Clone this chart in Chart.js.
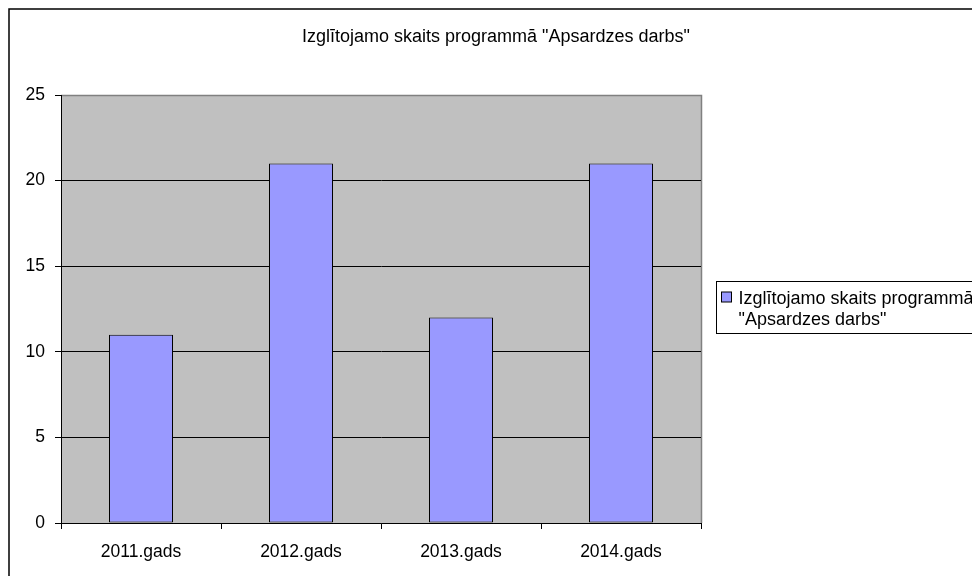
<!DOCTYPE html>
<html>
<head>
<meta charset="utf-8">
<script src="https://cdn.jsdelivr.net/npm/chart.js@4.4.1/dist/chart.umd.min.js"></script>
<style>
  html, body { margin: 0; padding: 0; background: #fff; overflow: hidden; }
  #wrap { position: relative; width: 972px; height: 576px; }
</style>
</head>
<body>
<div id="wrap"><canvas id="chart" width="972" height="576"></canvas></div>
<script>
// chart data
const titleText = 'Izglītojamo skaits programmā "Apsardzes darbs"';
const categories = ['2011.gads', '2012.gads', '2013.gads', '2014.gads'];
const seriesName = ['Izglītojamo skaits programmā', '"Apsardzes darbs"'];
const seriesValues = [11, 21, 12, 21];
const yTicks = [0, 5, 10, 15, 20, 25];

const FONT = '"Liberation Sans", Arial, sans-serif';
const BAR_FILL = '#9999FF';
const PLOT_BG = '#C0C0C0';

// background, frame and legend box (Excel-ish look)
const excelFrame = {
    id: 'excelFrame',
    beforeDraw(chart) {
        const ctx = chart.ctx;
        const a = chart.chartArea;
        ctx.save();
        // outer chart border
        ctx.strokeStyle = '#000';
        ctx.lineWidth = 1.5;
        ctx.strokeRect(9, 9, 1000, 600);
        // plot area
        ctx.fillStyle = PLOT_BG;
        ctx.fillRect(a.left, a.top, a.right - a.left, a.bottom - a.top);
        ctx.strokeStyle = '#808080';
        ctx.lineWidth = 1.5;
        ctx.beginPath();
        ctx.moveTo(a.left, a.top + 0.5);
        ctx.lineTo(a.right + 0.5, a.top + 0.5);
        ctx.lineTo(a.right + 0.5, a.bottom);
        ctx.stroke();
        ctx.restore();
    },
    afterDraw(chart) {
        const ctx = chart.ctx;
        const a = chart.chartArea;
        const lx = a.right + 15.5;
        ctx.save();
        ctx.strokeStyle = '#000';
        ctx.lineWidth = 1;
        ctx.strokeRect(lx, 281.5, 400, 52);
        // swatch
        ctx.fillStyle = BAR_FILL;
        ctx.fillRect(lx + 5, 292, 10, 10);
        ctx.strokeRect(lx + 5, 292, 10, 10);
        ctx.fillStyle = '#000';
        ctx.font = '18px ' + FONT;
        ctx.textBaseline = 'alphabetic';
        ctx.textAlign = 'left';
        ctx.fillText(seriesName[0], lx + 22, 304);
        ctx.fillText(seriesName[1], lx + 22, 325);
        ctx.restore();
    }
};

new Chart(document.getElementById('chart'), {
    type: 'bar',
    data: {
        labels: categories,
        datasets: [{
            label: seriesName.join(' '),
            data: seriesValues,
            backgroundColor: BAR_FILL,
            borderColor: '#000',
            borderWidth: 1,
            borderSkipped: false,
            barPercentage: 0.4,
            categoryPercentage: 1
        }]
    },
    options: {
        responsive: false,
        animation: false,
        devicePixelRatio: 1,
        layout: { padding: { left: 20, right: 0, top: 0, bottom: 0 } },
        plugins: {
            legend: { display: false },
            tooltip: { enabled: false },
            title: {
                display: true,
                text: titleText,
                color: '#000',
                font: { family: FONT, size: 18, weight: 'normal' },
                padding: { top: 26, bottom: 47.4 }
            }
        },
        scales: {
            x: {
                grid: {
                    offset: true,
                    drawOnChartArea: false,
                    drawTicks: true,
                    tickLength: 6,
                    tickColor: '#000'
                },
                border: { color: '#000', width: 1 },
                ticks: {
                    color: '#000',
                    padding: 13,
                    maxRotation: 0,
                    font: { family: FONT, size: 17.5 }
                },
                afterFit(s) { s.height = 53; }
            },
            y: {
                min: yTicks[0],
                max: yTicks[yTicks.length - 1],
                afterBuildTicks(s) { s.ticks = yTicks.map(v => ({ value: v })); },
                grid: {
                    color: ctx => ctx.tick && ctx.tick.value === 25 ? '#808080' : '#000',
                    tickColor: '#000',
                    tickLength: 6,
                    lineWidth: 1
                },
                border: { color: '#000', width: 1 },
                ticks: {
                    color: '#000',
                    padding: 10,
                    font: { family: FONT, size: 17.5 }
                },
                afterFit(s) { s.width = 41; }
            },
            // empty axis that keeps room for the legend on the right
            side: {
                position: 'right',
                display: true,
                min: 0,
                max: 1,
                grid: { display: false, drawTicks: false },
                border: { display: false },
                ticks: { display: false },
                afterFit(s) { s.width = 271; }
            }
        }
    },
    plugins: [excelFrame]
});
</script>
</body>
</html>
